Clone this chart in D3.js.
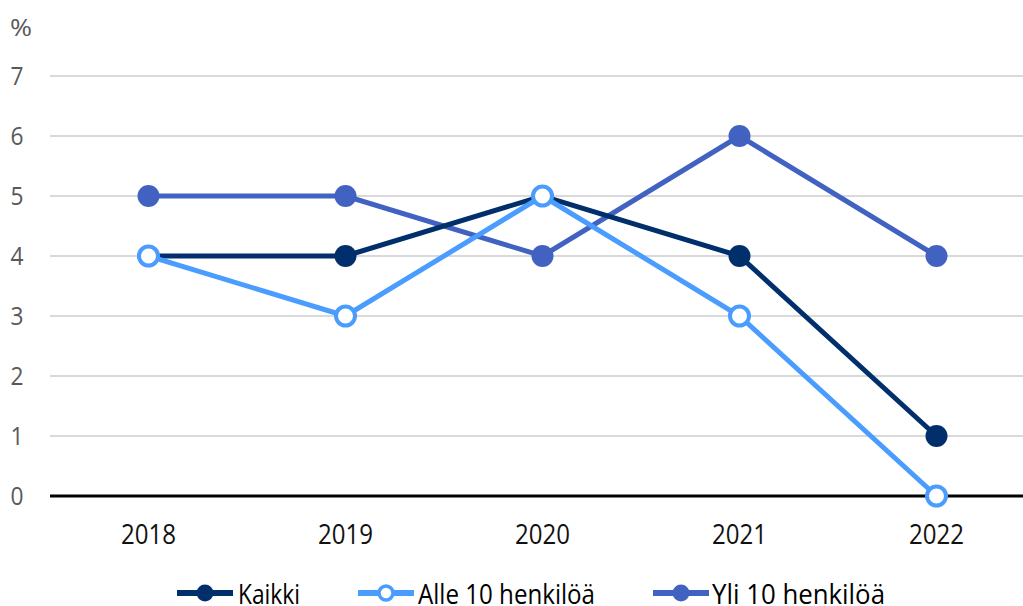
<!DOCTYPE html>
<html>
<head>
  <script src="https://d3js.org/d3.v7.min.js"></script>
  <style>
    body { margin: 0; background: #fff; }
    text { font-family: "Open Sans", "Noto Sans", sans-serif; }
  </style>
</head>
<body>
<script>
const years = ['2018', '2019', '2020', '2021', '2022'];
const kaikki = [4, 4, 5, 4, 1];
const alle10 = [4, 3, 5, 3, 0];
const yli10 = [5, 5, 4, 6, 4];
const yTicks = [0, 1, 2, 3, 4, 5, 6, 7];

const series = [
  { name: 'Yli 10 henkilöä', values: yli10, color: '#4262c1', open: false },
  { name: 'Kaikki', values: kaikki, color: '#002f6c', open: false },
  { name: 'Alle 10 henkilöä', values: alle10, color: '#4a9dff', open: true }
];
const legendOrder = ['Kaikki', 'Alle 10 henkilöä', 'Yli 10 henkilöä'];

const width = 1023, height = 606;
const svg = d3.select('body').append('svg')
  .attr('width', width).attr('height', height);

const x = d3.scalePoint().domain(years).range([50, 1035]).padding(0.5);
const y = d3.scaleLinear().domain([0, 7]).range([496, 76]);

// gridlines
svg.append('g').selectAll('line')
  .data(yTicks.filter(d => d > 0))
  .enter().append('line')
  .attr('x1', 50).attr('x2', width)
  .attr('y1', d => y(d)).attr('y2', d => y(d))
  .attr('stroke', '#d9d9d9').attr('stroke-width', 2);

// y labels
svg.append('g').selectAll('text')
  .data(yTicks)
  .enter().append('text')
  .attr('x', 17).attr('y', d => y(d) + 9)
  .attr('text-anchor', 'middle')
  .attr('font-size', 25).attr('fill', '#595959')
  .attr('textLength', 13).attr('lengthAdjust', 'spacingAndGlyphs')
  .text(d => d);

svg.append('text').attr('x', 10).attr('y', 36)
  .attr('font-size', 24).attr('fill', '#595959')
  .attr('textLength', 22).attr('lengthAdjust', 'spacingAndGlyphs')
  .text('%');

// zero line
svg.append('line')
  .attr('x1', 50).attr('x2', width)
  .attr('y1', y(0)).attr('y2', y(0))
  .attr('stroke', '#000').attr('stroke-width', 3);

// x labels
svg.append('g').selectAll('text')
  .data(years)
  .enter().append('text')
  .attr('x', d => x(d)).attr('y', 544)
  .attr('text-anchor', 'middle')
  .attr('font-size', 27).attr('fill', '#111')
  .attr('textLength', 55).attr('lengthAdjust', 'spacingAndGlyphs')
  .text(d => d);

const line = d3.line().x((d, i) => x(years[i])).y(d => y(d));

series.forEach(s => {
  const g = svg.append('g');
  g.append('path').datum(s.values)
    .attr('d', line).attr('fill', 'none')
    .attr('stroke', s.color).attr('stroke-width', 5);
  g.selectAll('circle').data(s.values).enter().append('circle')
    .attr('cx', (d, i) => x(years[i])).attr('cy', d => y(d))
    .attr('r', s.open ? 9.5 : 11)
    .attr('fill', s.open ? '#fff' : s.color)
    .attr('stroke', s.open ? s.color : 'none')
    .attr('stroke-width', s.open ? 4 : 0);
});

// legend
const legendX = [177, 358, 653];
const legendT = [61, 60, 59];
const legendW = [62, 177, 173];
legendOrder.forEach((name, i) => {
  const s = series.find(d => d.name === name);
  const g = svg.append('g').attr('transform', `translate(${legendX[i]},593)`);
  g.append('line').attr('x1', 0).attr('x2', 56).attr('y1', 0).attr('y2', 0)
    .attr('stroke', s.color).attr('stroke-width', 6);
  g.append('circle').attr('cx', 28).attr('cy', 0)
    .attr('r', s.open ? 7 : 8.5)
    .attr('fill', s.open ? '#fff' : s.color)
    .attr('stroke', s.open ? s.color : 'none')
    .attr('stroke-width', s.open ? 3.5 : 0);
  g.append('text').attr('x', legendT[i]).attr('y', 11)
    .attr('font-size', 28).attr('fill', '#000')
    .attr('textLength', legendW[i]).attr('lengthAdjust', 'spacingAndGlyphs')
    .text(name);
});
</script>
</body>
</html>
